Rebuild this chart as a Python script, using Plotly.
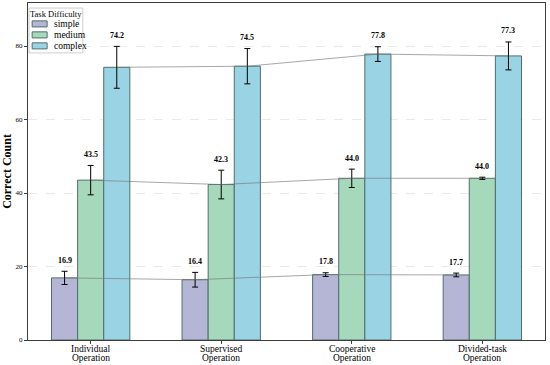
import plotly.graph_objects as go

categories = ["Individual<br>Operation", "Supervised<br>Operation", "Cooperative<br>Operation", "Divided-task<br>Operation"]
series_names = ["simple", "medium", "complex"]
simple_vals = [16.9, 16.4, 17.8, 17.7]
simple_err = [1.8, 2.0, 0.5, 0.5]
medium_vals = [43.5, 42.3, 44.0, 44.0]
medium_err = [4.0, 3.9, 2.5, 0.3]
complex_vals = [74.2, 74.5, 77.8, 77.3]
complex_err = [5.7, 4.8, 2.0, 3.8]
legend_title = "Task Difficulty"

colors = ["rgb(181,181,214)", "rgb(166,216,188)", "rgb(153,211,228)"]
edge = "rgb(80,110,110)"
font_family = "Liberation Serif, Times New Roman, serif"

vals = [simple_vals, medium_vals, complex_vals]
errs = [simple_err, medium_err, complex_err]
offsets = [-0.2, 0.0, 0.2]

fig = go.Figure()
xs_base = list(range(len(categories)))
for name, v, e, off, c in zip(series_names, vals, errs, offsets, colors):
    xs = [x + off for x in xs_base]
    fig.add_trace(go.Bar(
        x=xs, y=v, width=0.2, name=name, showlegend=False,
        marker=dict(color=c, line=dict(color=edge, width=1)),
        error_y=dict(type="data", array=e, color="black", thickness=1, width=3),
    ))
for v, off in zip(vals, offsets):
    xs = [x + off for x in xs_base]
    fig.add_trace(go.Scatter(
        x=xs, y=v, mode="lines", showlegend=False, hoverinfo="skip",
        line=dict(color="rgba(120,120,120,0.65)", width=1),
    ))
for v, e, off in zip(vals, errs, offsets):
    for x, yv, ev in zip(xs_base, v, e):
        fig.add_annotation(
            x=x + off, y=yv + ev + 3.0, text=f"<b>{yv:.1f}</b>",
            showarrow=False, yanchor="middle",
            font=dict(family=font_family, size=8, color="black"),
        )

# x tick labels as two-line annotations (tight line spacing)
for x, lab in zip(xs_base, categories):
    for i, part in enumerate(lab.split("<br>")):
        fig.add_annotation(
            x=x, xref="x", y=0, yref="paper", text=part, showarrow=False,
            yanchor="middle", yshift=-9 - 9 * i,
            font=dict(family=font_family, size=9.5, color="black"),
        )

# custom compact legend (paper coords)
fig.add_shape(type="rect", xref="paper", yref="paper", x0=0.002, x1=0.106, y0=0.852, y1=0.985,
              line=dict(color="rgb(205,205,205)", width=1), fillcolor="rgba(255,255,255,0.85)")
fig.add_annotation(xref="paper", yref="paper", x=0.054, y=0.968, text=legend_title, showarrow=False,
                   xanchor="center", yanchor="middle", font=dict(family=font_family, size=8.5, color="black"))
for i, (name, c) in enumerate(zip(series_names, colors)):
    yc = 0.938 - i * 0.0326
    fig.add_shape(type="rect", xref="paper", yref="paper", x0=0.008, x1=0.037,
                  y0=yc - 0.009, y1=yc + 0.009, line=dict(color=edge, width=1), fillcolor=c)
    fig.add_annotation(xref="paper", yref="paper", x=0.046, y=yc, text=name, showarrow=False,
                       xanchor="left", yanchor="middle", font=dict(family=font_family, size=9.5, color="black"))

fig.update_layout(
    width=550, height=365,
    margin=dict(l=28, r=5, t=3, b=25),
    paper_bgcolor="white", plot_bgcolor="white",
    barmode="overlay",
    font=dict(family=font_family, size=9, color="black"),
    showlegend=False,
    xaxis=dict(
        range=[-0.48, 3.48], tickmode="array", tickvals=xs_base, ticktext=["", "", "", ""],
        showgrid=False, zeroline=False, showline=True, mirror=True, automargin=False,
        linecolor="rgb(60,60,60)", linewidth=1, ticks="outside", ticklen=3,
        tickcolor="rgb(60,60,60)",
    ),
    yaxis=dict(
        range=[0, 91.7], tickvals=[0, 20, 40, 60, 80],
        showgrid=True, gridcolor="rgba(200,200,200,0.4)", griddash="dash", gridwidth=0.8,
        zeroline=False, showline=True, mirror=True, automargin=False,
        linecolor="rgb(60,60,60)", linewidth=1, ticks="outside", ticklen=3,
        tickcolor="rgb(60,60,60)", tickfont=dict(family=font_family, size=7),
        title=dict(text="<b>Correct Count</b>", font=dict(family=font_family, size=12), standoff=5),
    ),
)

fig.write_html("out.html", config={"displayModeBar": False},
               post_script="document.body.style.margin='0';document.body.style.overflow='hidden';")
